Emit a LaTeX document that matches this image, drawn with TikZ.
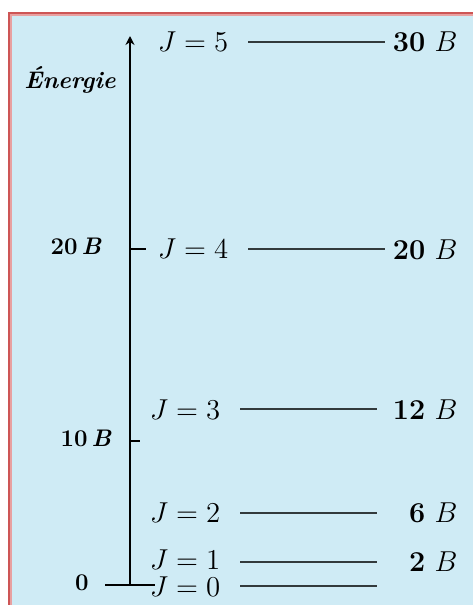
\documentclass[tikz,border=0pt]{standalone}
\usepackage{fontspec}
\usetikzlibrary{arrows.meta}
\definecolor{xSky}{RGB}{207,235,245}
\definecolor{xRim}{RGB}{205,85,85}
\definecolor{xRimLight}{RGB}{232,160,160}
\definecolor{xLine}{RGB}{50,58,60}
\tikzset{
  level/.style={xLine, line width=1.1pt},
  axis/.style={line width=1pt, -{Stealth[length=4.5pt, width=4.5pt]}},
  tick/.style={line width=1pt},
  jlabel/.style={font=\fontsize{13.5}{14}\selectfont, inner sep=0pt},
  elabel/.style={font=\Large, inner sep=0pt, anchor=east},
  scalelabel/.style={font=\large\bfseries, inner sep=0pt},
}

\begin{document}
\begin{tikzpicture}[x=0.5pt, y=-0.5pt]
    \useasboundingbox (0,0) rectangle (473,605);
    \fill[white] (0,0) rectangle (473,605);
    \fill[xSky] (9,13) rectangle (473,605);
    \draw[xRim, line width=1pt] (8.5,605) -- (8.5,12.5) -- (473,12.5);
    \draw[xRimLight, line width=1pt] (10.5,605) -- (10.5,14.5) -- (473,14.5);
    % energy axis
    \coordinate (o)  at (130,585);
    \coordinate (top) at (130,36);
    \coordinate (ol) at (105,585);
    \coordinate (or) at (155,585);
    \coordinate (t20) at (130,249);
    \coordinate (t20e) at (146,249);
    \coordinate (t10) at (130,441);
    \coordinate (t10e) at (140,441);
    \draw[axis] (o) -- (top);
    \draw[tick] (ol) -- (or);
    \draw[tick] (t20) -- (t20e);
    \draw[tick] (t10) -- (t10e);
    \node[scalelabel, font=\large\bfseries\itshape] (en) at (70,80) {Énergie};
    \node[scalelabel] (s20) at (76,246) {20\,\textit{B}};
    \node[scalelabel] (s10) at (86,438) {10\,\textit{B}};
    \node[scalelabel] (s0)  at (82,583) {0};
    % rotational levels
    \coordinate (a5) at (248,42);  \coordinate (b5) at (385,42);
    \coordinate (a4) at (248,249); \coordinate (b4) at (385,249);
    \coordinate (a3) at (240,409); \coordinate (b3) at (377,409);
    \coordinate (a2) at (240,513); \coordinate (b2) at (377,513);
    \coordinate (a1) at (240,562); \coordinate (b1) at (377,562);
    \coordinate (a0) at (240,586); \coordinate (b0) at (377,586);
    \draw[level] (a5) -- (b5);
    \draw[level] (a4) -- (b4);
    \draw[level] (a3) -- (b3);
    \draw[level] (a2) -- (b2);
    \draw[level] (a1) -- (b1);
    \draw[level] (a0) -- (b0);
    \node[jlabel] (j5) at (193,42)  {$J=5$};
    \node[jlabel] (j4) at (193,249) {$J=4$};
    \node[jlabel] (j3) at (185,410) {$J=3$};
    \node[jlabel] (j2) at (185,513) {$J=2$};
    \node[jlabel] (j1) at (185,560) {$J=1$};
    \node[jlabel] (j0) at (185,587) {$J=0$};
    \node[elabel] (e5) at (458,42)  {\textbf{30} $B$};
    \node[elabel] (e4) at (458,250) {\textbf{20} $B$};
    \node[elabel] (e3) at (458,410) {\textbf{12} $B$};
    \node[elabel] (e2) at (458,513) {\textbf{6} $B$};
    \node[elabel] (e1) at (458,562) {\textbf{2} $B$};
  \end{tikzpicture}
\end{document}
